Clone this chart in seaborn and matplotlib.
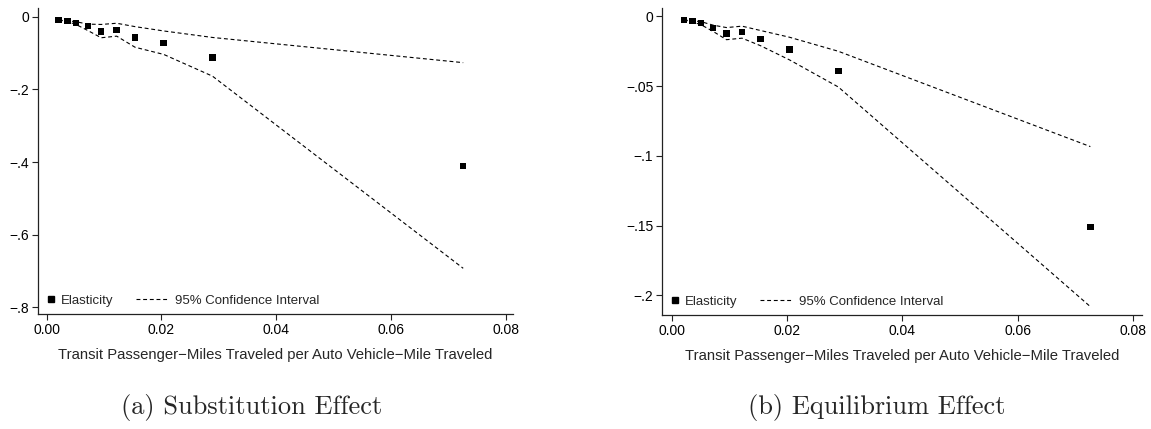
import matplotlib
matplotlib.use("Agg")
import matplotlib.pyplot as plt
from matplotlib.lines import Line2D
from matplotlib.legend_handler import HandlerLine2D
import numpy as np
import seaborn as sns
import pandas as pd

# ---- data ----
x_tpm = [0.0021, 0.0036, 0.0051, 0.0072, 0.0095, 0.0122, 0.0154, 0.0204, 0.0289, 0.0726]

sub_est = [-0.0099, -0.0118, -0.0173, -0.0256, -0.0402, -0.0374, -0.0567, -0.0724, -0.1118, -0.411]
sub_hi = [-0.0099, -0.0113, -0.0140, -0.0206, -0.0215, -0.0182, -0.0275, -0.0394, -0.0573, -0.1266]
sub_lo = [-0.0099, -0.0132, -0.0215, -0.0385, -0.0581, -0.0537, -0.0842, -0.1040, -0.1638, -0.6925]

eq_est = [-0.0026, -0.0033, -0.0047, -0.0083, -0.0124, -0.0112, -0.0162, -0.0239, -0.0390, -0.151]
eq_hi = [-0.0026, -0.0031, -0.0038, -0.0063, -0.0080, -0.0070, -0.0101, -0.0149, -0.0250, -0.0933]
eq_lo = [-0.0026, -0.0038, -0.0060, -0.0108, -0.0167, -0.0156, -0.0210, -0.0311, -0.0506, -0.2080]

x_ticks = [0.00, 0.02, 0.04, 0.06, 0.08]
x_ticklabels = ["0.00", "0.02", "0.04", "0.06", "0.08"]
sub_yticks = [0.0, -0.2, -0.4, -0.6, -0.8]
sub_yticklabels = ["0", "\u2212.2", "\u2212.4", "\u2212.6", "\u2212.8"]
eq_yticks = [0.0, -0.05, -0.10, -0.15, -0.20]
eq_yticklabels = ["0", "\u2212.05", "\u2212.1", "\u2212.15", "\u2212.2"]

xlabel = "Transit Passenger\u2212Miles Traveled per Auto Vehicle\u2212Mile Traveled"
captions = ["(a) Substitution Effect", "(b) Equilibrium Effect"]
legend_labels = ["Elasticity", "95% Confidence Interval"]

sns.set_theme(style="white")
plt.rcParams["font.family"] = ["Liberation Sans", "DejaVu Sans"]

fig = plt.figure(figsize=(11.51, 4.29), dpi=100)
ax1 = fig.add_axes([0.0333, 0.2674, 0.4120, 0.7133])
ax2 = fig.add_axes([0.5754, 0.2657, 0.4165, 0.7156])

FS_LABEL = 10.7
FS_TICK = 10.0
FS_LEG = 9.5
LEG_PX = FS_LEG * 100 / 72
HL = 2.35
MOFF = 0.15
dash = (3.5, 2.5)


class RightMarker(HandlerLine2D):
    def get_xdata(self, legend, xdescent, ydescent, width, height, fontsize):
        m = -xdescent + width - MOFF * fontsize
        xdata = np.array([m - 0.5, m + 0.5])
        return xdata, [m]


def draw(ax, est, lo, hi, yticks, yticklabels, xlim, ylim, caption, cap_x,
         ax_left_px, ax_w_px, marker_px):
    df = pd.DataFrame({"x": x_tpm, "est": est, "lo": lo, "hi": hi})
    for col in ["hi", "lo"]:
        sns.lineplot(data=df, x="x", y=col, ax=ax, color="black", lw=0.8,
                     dashes=False, estimator=None, sort=False)
    for ln in ax.lines:
        ln.set_dashes(dash)
    sns.scatterplot(data=df, x="x", y="est", ax=ax, marker="s", s=22,
                    color="black", edgecolor="none", linewidth=0, zorder=3)
    ax.set_xlim(*xlim)
    ax.set_ylim(*ylim)
    ax.set_xticks(x_ticks)
    ax.set_xticklabels(x_ticklabels, fontsize=FS_TICK)
    ax.set_yticks(yticks)
    ax.set_yticklabels(yticklabels, fontsize=FS_TICK)
    ax.set_xlabel(xlabel, fontsize=FS_LABEL, labelpad=8)
    ax.set_ylabel("")
    for s in ["top", "right"]:
        ax.spines[s].set_visible(False)
    for s in ["left", "bottom"]:
        ax.spines[s].set_color("#222222")
        ax.spines[s].set_linewidth(0.9)
    ax.tick_params(axis="both", which="major", direction="out", length=4.5,
                   width=0.8, color="#222222", labelcolor="black", pad=2,
                   bottom=True, left=True)
    h_pt = Line2D([], [], marker="s", color="black", linestyle="none", markersize=4.5)
    h_ln = Line2D([], [], color="black", lw=0.8, dashes=dash)
    box_start = marker_px + MOFF * LEG_PX - HL * LEG_PX
    anchor_x = (box_start - ax_left_px) / ax_w_px
    ax.legend([h_pt, h_ln], legend_labels, loc="lower left", ncol=2, frameon=False,
              fontsize=FS_LEG, handlelength=HL, handletextpad=0.6, columnspacing=1.74,
              borderpad=0.0, borderaxespad=0.0, bbox_to_anchor=(anchor_x, 0.024),
              handler_map={h_pt: RightMarker(numpoints=1)})
    fig.text(cap_x, 0.05, caption, ha="center", va="center",
             fontsize=19, family="cmr10")


draw(ax1, sub_est, sub_lo, sub_hi, sub_yticks, sub_yticklabels,
     (-0.00146, 0.0812), (-0.819, 0.023), captions[0], 251.7 / 1151, 38.3, 473.7, 51)
draw(ax2, eq_est, eq_lo, eq_hi, eq_yticks, eq_yticklabels,
     (-0.00163, 0.0815), (-0.214, 0.006), captions[1], 877 / 1151, 662.3, 479.4, 675)

fig.savefig("out.png", dpi=100, facecolor="white")
